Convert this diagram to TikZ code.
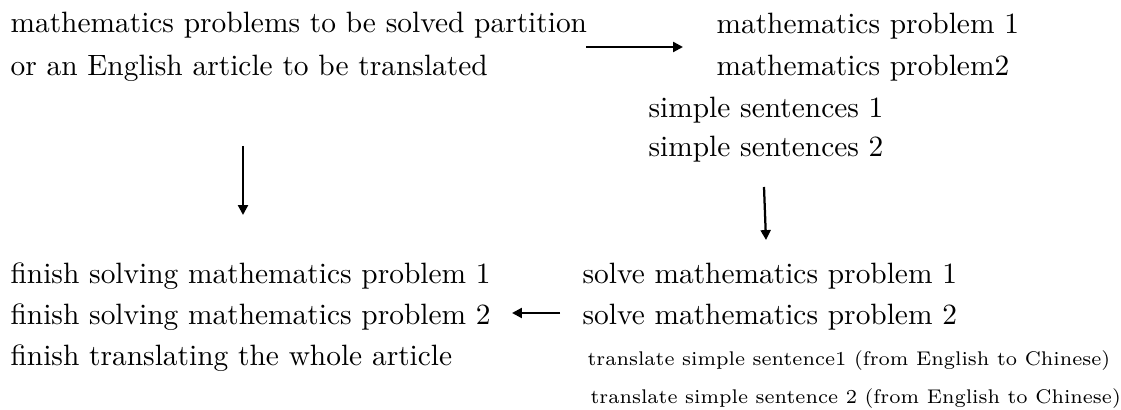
\documentclass[tikz,border=0pt]{standalone}
\usetikzlibrary{arrows.meta}
\begin{document}
\begin{tikzpicture}[x=0.3333pt,y=-0.3333pt,
  txt/.style={anchor=base west, inner sep=0pt, font=\fontsize{9.8}{12}\selectfont},
  small/.style={anchor=base west, inner sep=0pt, font=\fontsize{6.6}{8}\selectfont},
  arr/.style={line width=0.75pt, -{Triangle[length=3.3pt,width=3.3pt]}}]
\useasboundingbox (0,0) rectangle (1121,410);
% top left
\node[txt] (t1) at (10,33) {mathematics problems to be solved partition};
\node[txt] (t2) at (10,76) {or an English article to be translated};
% top right
\node[txt] (r1) at (716,34) {mathematics problem 1};
\node[txt] (r2) at (716,76) {mathematics problem2};
\node[txt] (r3) at (648,118) {simple sentences 1};
\node[txt] (r4) at (648,157) {simple sentences 2};
% bottom left
\node[txt] (b1) at (10,284) {finish solving mathematics problem 1};
\node[txt] (b2) at (10,325) {finish solving mathematics problem 2};
\node[txt] (b3) at (10,365) {finish translating the whole article};
% bottom right
\node[txt] (s1) at (582,284) {solve mathematics problem 1};
\node[txt] (s2) at (582,325) {solve mathematics problem 2};
\node[small] (s3) at (587,365) {translate simple sentence1 (from English to Chinese)};
\node[small] (s4) at (590,403) {translate simple sentence 2 (from English to Chinese)};
% arrows
\coordinate (a1s) at (586,47);  \coordinate (a1e) at (683,47);
\coordinate (a2s) at (243,146); \coordinate (a2e) at (243,215);
\coordinate (a3s) at (764,187); \coordinate (a3e) at (766,240);
\coordinate (a4s) at (560,313); \coordinate (a4e) at (512,313);
\draw[arr] (a1s) -- (a1e);
\draw[arr] (a2s) -- (a2e);
\draw[arr] (a3s) -- (a3e);
\draw[arr] (a4s) -- (a4e);
\end{tikzpicture}
\end{document}
